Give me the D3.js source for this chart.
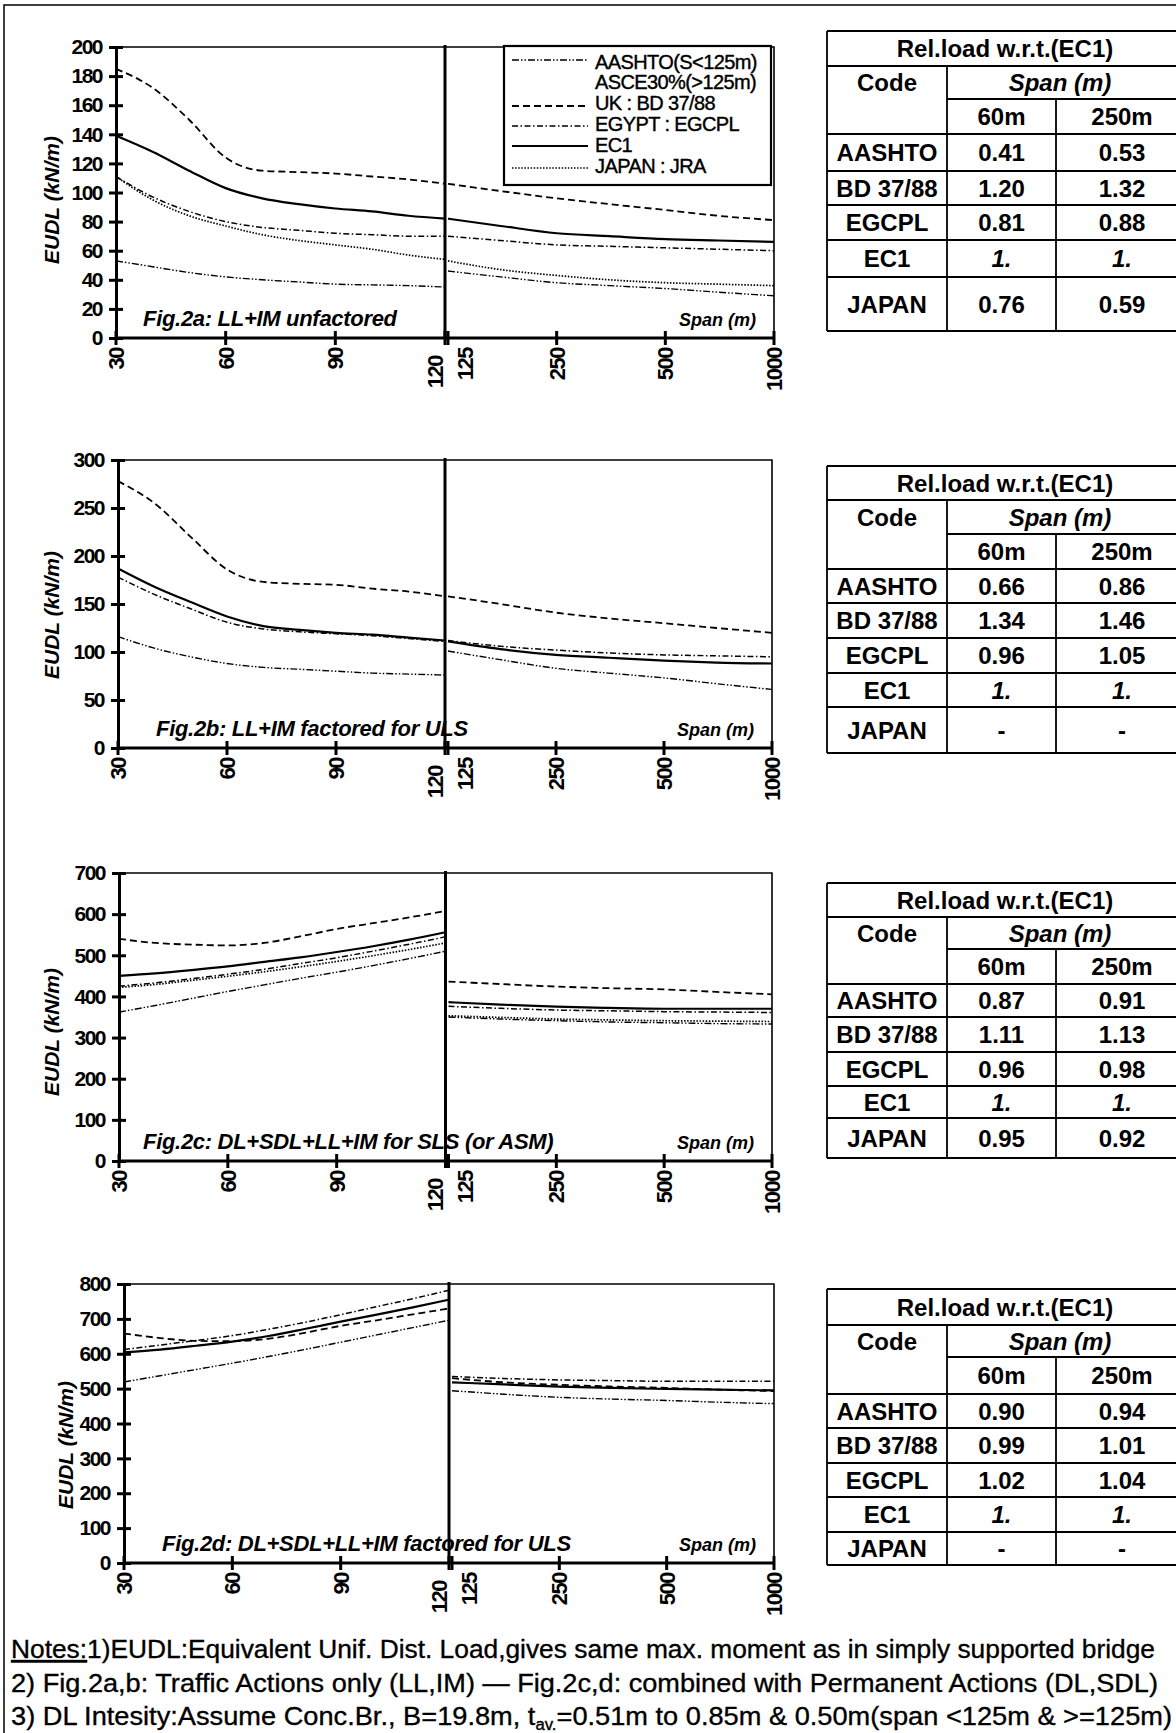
<!DOCTYPE html>
<html>
<head>
<meta charset="utf-8">
<script src="https://cdnjs.cloudflare.com/ajax/libs/d3/7.8.5/d3.min.js"></script>
<style>
body { margin: 0; background: #fff; }
svg { display: block; font-family: "Liberation Sans", Arial, sans-serif; }
</style>
</head>
<body>
<svg id="chart" width="1176" height="1733"></svg>
<script>
// spans (m): 30..120 on a linear part, 125..1000 on a log part
var spans = [30, 40, 50, 60, 70, 80, 90, 100, 110, 120, 125, 175, 250, 350, 500, 700, 1000];
var ticksLeft = [30, 60, 90, 120];
var ticksRight = [125, 250, 500, 1000];

// Fig.2a  LL+IM unfactored
var fig2a_aashto = [53, 49, 45, 42, 40, 38.5, 37, 36.5, 36, 35, 46, 42, 38, 36, 34, 31.5, 29];
var fig2a_uk     = [185, 172, 150, 124, 115, 114, 113, 111, 109, 106, 106, 101, 96, 92, 88, 84, 81];
var fig2a_egypt  = [111, 97, 87, 80, 76, 74, 72, 71, 70, 70, 70, 67, 64, 63, 62, 61, 60];
var fig2a_ec1    = [139, 128, 115, 103, 96, 92, 89, 87, 84, 82, 82, 77, 72, 70, 68, 67, 66];
var fig2a_japan  = [111, 95, 84, 77, 71, 67, 64, 61, 57, 54, 53, 47, 43, 40, 38, 37, 36];

// Fig.2b  LL+IM factored for ULS
var fig2b_aashto = [116, 104, 95, 88, 84, 82, 80, 78, 77, 76, 101, 92, 83, 78, 73, 67, 61];
var fig2b_uk     = [278, 255, 220, 186, 173, 171, 170, 166, 163, 158, 158, 150, 141, 135, 130, 125, 120];
var fig2b_egypt  = [178, 160, 145, 131, 124, 121, 119, 117, 114, 111, 112, 106, 102, 99, 97, 96, 95];
var fig2b_ec1    = [187, 168, 152, 137, 127, 123, 120, 118, 115, 112, 111, 103, 97, 94, 91, 89, 88];

// Fig.2c  DL+SDL+LL+IM for SLS
var fig2c_aashto = [362, 378, 395, 412, 428, 444, 459, 475, 492, 510, 350, 345, 341, 338, 336, 334, 333];
var fig2c_uk     = [540, 530, 526, 524, 530, 546, 564, 578, 592, 608, 436, 430, 424, 420, 417, 411, 405];
var fig2c_egypt  = [425, 433, 443, 454, 466, 480, 494, 510, 527, 545, 376, 371, 367, 365, 363, 362, 361];
var fig2c_ec1    = [450, 456, 464, 473, 484, 495, 508, 522, 538, 556, 386, 380, 375, 372, 370, 370, 370];
var fig2c_japan  = [422, 429, 439, 449, 460, 472, 485, 499, 514, 530, 353, 349, 345, 343, 341, 340, 339];

// Fig.2d  DL+SDL+LL+IM factored for ULS
var fig2d_aashto = [519, 537, 555, 573, 592, 612, 633, 654, 675, 696, 494, 484, 475, 470, 466, 461, 457];
var fig2d_uk     = [658, 645, 637, 636, 643, 660, 680, 696, 713, 730, 530, 518, 511, 506, 502, 497, 493];
var fig2d_egypt  = [612, 625, 638, 652, 670, 690, 712, 735, 758, 782, 535, 529, 525, 523, 521, 521, 521];
var fig2d_ec1    = [604, 612, 623, 635, 651, 671, 692, 712, 733, 755, 518, 512, 506, 502, 499, 497, 495];

// tables: relative load w.r.t. EC1
var tableCodes = ["AASHTO", "BD 37/88", "EGCPL", "EC1", "JAPAN"];
var rel2a_60 = ["0.41", "1.20", "0.81", "1.", "0.76"], rel2a_250 = ["0.53", "1.32", "0.88", "1.", "0.59"];
var rel2b_60 = ["0.66", "1.34", "0.96", "1.", "-"],    rel2b_250 = ["0.86", "1.46", "1.05", "1.", "-"];
var rel2c_60 = ["0.87", "1.11", "0.96", "1.", "0.95"], rel2c_250 = ["0.91", "1.13", "0.98", "1.", "0.92"];
var rel2d_60 = ["0.90", "0.99", "1.02", "1.", "-"],    rel2d_250 = ["0.94", "1.01", "1.04", "1.", "-"];

var legendLabels = [["AASHTO(S<125m)", "ASCE30%(>125m)"], ["UK : BD 37/88"], ["EGYPT : EGCPL"], ["EC1"], ["JAPAN : JRA"]];

// line styles per code
var styles = {
  aashto: { dash: "7,2,1.5,2,1.5,2", w: 1.4 },
  uk:     { dash: "7,4", w: 1.8 },
  egypt:  { dash: "6,2.5,1.5,2.5", w: 1.5 },
  ec1:    { dash: null, w: 2.2 },
  japan:  { dash: "1.5,1.6", w: 1.7 }
};

var panels = [
  { fig: "Fig.2a: LL+IM unfactored", x0: 116, x1: 774, yTop: 47, yZero: 338, yMax: 200, yStep: 20,
    figX: 143, labX: 52, labY: 200,
    series: { aashto: fig2a_aashto, uk: fig2a_uk, egypt: fig2a_egypt, ec1: fig2a_ec1, japan: fig2a_japan } },
  { fig: "Fig.2b: LL+IM factored for ULS", x0: 118, x1: 772, yTop: 460, yZero: 748, yMax: 300, yStep: 50,
    figX: 156, labX: 52, labY: 615,
    series: { aashto: fig2b_aashto, uk: fig2b_uk, egypt: fig2b_egypt, ec1: fig2b_ec1 } },
  { fig: "Fig.2c: DL+SDL+LL+IM for SLS (or ASM)", x0: 119, x1: 772, yTop: 873, yZero: 1161, yMax: 700, yStep: 100,
    figX: 143, labX: 52, labY: 1032,
    series: { aashto: fig2c_aashto, uk: fig2c_uk, egypt: fig2c_egypt, ec1: fig2c_ec1, japan: fig2c_japan } },
  { fig: "Fig.2d: DL+SDL+LL+IM factored for ULS", x0: 124, x1: 774, yTop: 1284, yZero: 1563, yMax: 800, yStep: 100,
    figX: 162, labX: 66, labY: 1445,
    series: { aashto: fig2d_aashto, uk: fig2d_uk, egypt: fig2d_egypt, ec1: fig2d_ec1 } }
];

var tables = [
  { rows: [31, 66, 99, 134, 171, 205, 240, 277, 331], v60: rel2a_60, v250: rel2a_250 },
  { rows: [466, 500, 534, 569, 603, 638, 673, 707, 753], v60: rel2b_60, v250: rel2b_250 },
  { rows: [883, 917, 949, 984, 1017, 1052, 1086, 1118, 1158], v60: rel2c_60, v250: rel2c_250 },
  { rows: [1289, 1325, 1357, 1394, 1428, 1463, 1497, 1532, 1565], v60: rel2d_60, v250: rel2d_250 }
];
var tableCols = [827, 947, 1056, 1188];

var svg = d3.select("#chart");
svg.append("rect").attr("width", 1176).attr("height", 1733).attr("fill", "#fff");
// outer frame
svg.append("path").attr("d", "M4,1733V5H1176").attr("fill", "none")
  .attr("stroke", "#000").attr("stroke-width", 1.5);

panels.forEach(drawPanel);
tables.forEach(drawTable);
drawLegend(panels[0]);
drawNotes();

function drawPanel(p) {
  var g = svg.append("g");
  var xm = (p.x0 + p.x1) / 2;
  var xL = d3.scaleLinear().domain([30, 120]).range([p.x0, xm]);
  var xR = d3.scaleLog().domain([125, 1000]).range([xm + 3, p.x1]);
  var x = function (s) { return s <= 120 ? xL(s) : xR(s); };
  var y = d3.scaleLinear().domain([0, p.yMax]).range([p.yZero, p.yTop]);

  // top and right border of the plot area
  g.append("path").attr("d", "M" + p.x0 + "," + p.yTop + "H" + p.x1 + "V" + p.yZero)
    .attr("fill", "none").attr("stroke", "#000").attr("stroke-width", 1.6);

  // captions inside the plot
  g.append("text").attr("x", p.figX).attr("y", p.yZero - 12)
    .style("font-size", "22px").style("font-weight", "bold").style("font-style", "italic")
    .style("letter-spacing", "-0.3px")
    .text(p.fig);
  g.append("text").attr("x", p.x1 - 18).attr("y", p.yZero - 12).attr("text-anchor", "end")
    .style("font-size", "18px").style("font-weight", "bold").style("font-style", "italic")
    .text("Span (m)");

  // curves, left (linear) and right (log) parts drawn separately
  var line = d3.line()
    .x(function (d) { return x(d.s); })
    .y(function (d) { return y(d.v); })
    .curve(d3.curveMonotoneX);
  Object.keys(p.series).forEach(function (k) {
    var pts = spans.map(function (s, i) { return { s: s, v: p.series[k][i] }; });
    var parts = [pts.filter(function (d) { return d.s <= 120; }), pts.filter(function (d) { return d.s >= 125; })];
    parts.forEach(function (part) {
      g.append("path").datum(part)
        .attr("d", line)
        .attr("fill", "none")
        .attr("stroke", "#000")
        .attr("stroke-width", styles[k].w)
        .attr("stroke-dasharray", styles[k].dash);
    });
  });

  // divider between the two x scales
  g.append("line").attr("x1", xm).attr("x2", xm).attr("y1", p.yTop - 2).attr("y2", p.yZero)
    .attr("stroke", "#000").attr("stroke-width", 3);

  // y axis
  var ya = g.append("g").attr("transform", "translate(" + p.x0 + ",0)")
    .call(d3.axisLeft(y).tickValues(d3.range(0, p.yMax + 1, p.yStep)).tickSize(7).tickSizeOuter(0).tickPadding(7));
  ya.select(".domain").attr("stroke-width", 3);
  ya.selectAll(".tick line").attr("x1", 7).attr("stroke-width", 3);
  ya.selectAll(".tick text")
    .style("font-family", "'Liberation Sans', Arial, sans-serif")
    .style("font-size", "21px").style("font-weight", "bold").attr("fill", "#000")
    .style("letter-spacing", "-1.5px");

  g.append("text")
    .attr("transform", "translate(" + p.labX + "," + p.labY + ") rotate(-90)")
    .attr("text-anchor", "middle").attr("dy", "0.35em")
    .style("font-size", "21px").style("font-weight", "bold").style("font-style", "italic")
    .text("EUDL (kN/m)");

  // x axis
  g.append("line").attr("x1", p.x0 - 1).attr("x2", p.x1 + 1).attr("y1", p.yZero).attr("y2", p.yZero)
    .attr("stroke", "#000").attr("stroke-width", 3);
  var labShift = { 120: [-10, 8], 125: [17, 0] };
  ticksLeft.concat(ticksRight).forEach(function (t) {
    var tx = x(t);
    g.append("line").attr("x1", tx).attr("x2", tx).attr("y1", p.yZero - 7).attr("y2", p.yZero + 7)
      .attr("stroke", "#000").attr("stroke-width", 3);
    var sh = labShift[t] || [0, 0];
    g.append("text")
      .attr("transform", "translate(" + (tx + sh[0]) + "," + (p.yZero + 10 + sh[1]) + ") rotate(-90)")
      .attr("text-anchor", "end").attr("dy", "0.36em")
      .style("font-size", "22px").style("font-weight", "bold").style("letter-spacing", "-1.5px")
      .text(t);
  });
}

function drawLegend(p) {
  var g = svg.append("g");
  g.append("rect").attr("x", 504).attr("y", 46).attr("width", 267).attr("height", 139)
    .attr("fill", "#fff").attr("stroke", "#000").attr("stroke-width", 2.2);
  var keys = ["aashto", "uk", "egypt", "ec1", "japan"];
  var lineY = [60, 106, 126, 146, 168];
  var textY = [[69, 89], [110], [131], [152], [173]];
  keys.forEach(function (k, i) {
    g.append("line").attr("x1", 512).attr("x2", 588).attr("y1", lineY[i]).attr("y2", lineY[i])
      .attr("stroke", "#000").attr("stroke-width", styles[k].w).attr("stroke-dasharray", styles[k].dash);
    legendLabels[i].forEach(function (lab, j) {
      g.append("text").attr("x", 595).attr("y", textY[i][j])
        .style("font-size", "20px").style("letter-spacing", "-0.6px")
        .attr("stroke", "#000").attr("stroke-width", 0.4)
        .text(lab);
    });
  });
}

function drawTable(t) {
  var g = svg.append("g");
  var r = t.rows, c = tableCols;
  var hl = function (yy, xa, xb) {
    g.append("line").attr("x1", xa).attr("x2", xb).attr("y1", yy).attr("y2", yy)
      .attr("stroke", "#000").attr("stroke-width", 1.8);
  };
  var vl = function (xx, ya, yb) {
    g.append("line").attr("x1", xx).attr("x2", xx).attr("y1", ya).attr("y2", yb)
      .attr("stroke", "#000").attr("stroke-width", 1.8);
  };
  hl(r[0], c[0], c[3]); hl(r[1], c[0], c[3]); hl(r[2], c[1], c[3]);
  for (var i = 3; i < r.length; i++) hl(r[i], c[0], c[3]);
  vl(c[0], r[0], r[8]); vl(c[1], r[1], r[8]); vl(c[2], r[2], r[8]);

  var txt = function (xx, yy, s, italic) {
    g.append("text").attr("x", xx).attr("y", yy).attr("dy", "0.36em").attr("text-anchor", "middle")
      .style("font-size", "24px").style("font-weight", "bold")
      .style("font-style", italic ? "italic" : "normal").text(s);
  };
  var mid = function (a, b) { return (a + b) / 2; };
  txt(1005, mid(r[0], r[1]), "Rel.load w.r.t.(EC1)");
  txt(mid(c[0], c[1]), mid(r[1], r[2]), "Code");
  txt(1060, mid(r[1], r[2]), "Span (m)", true);
  txt(mid(c[1], c[2]), mid(r[2], r[3]), "60m");
  txt(1122, mid(r[2], r[3]), "250m");
  tableCodes.forEach(function (code, i) {
    var yy = mid(r[3 + i], r[4 + i]);
    txt(mid(c[0], c[1]), yy, code);
    txt(mid(c[1], c[2]), yy, t.v60[i], code === "EC1");
    txt(1122, yy, t.v250[i], code === "EC1");
  });
}

function drawNotes() {
  var g = svg.append("g").style("font-size", "26px").attr("stroke", "#000").attr("stroke-width", 0.35);
  var t1 = g.append("text").attr("x", 11).attr("y", 1658)
    .attr("textLength", 1144).attr("lengthAdjust", "spacingAndGlyphs");
  t1.append("tspan").style("text-decoration", "underline").text("Notes:");
  t1.append("tspan").text("1)EUDL:Equivalent Unif. Dist. Load,gives same max. moment as in simply supported bridge");
  g.append("text").attr("x", 11).attr("y", 1692)
    .attr("textLength", 1147).attr("lengthAdjust", "spacingAndGlyphs")
    .text("2) Fig.2a,b: Traffic Actions only (LL,IM) \u2014 Fig.2c,d: combined with Permanent Actions (DL,SDL)");
  var t3 = g.append("text").attr("x", 11).attr("y", 1725)
    .attr("textLength", 1161).attr("lengthAdjust", "spacingAndGlyphs");
  t3.append("tspan").text("3) DL Intesity:Assume Conc.Br., B=19.8m, t");
  t3.append("tspan").attr("dy", 5).style("font-size", "16px").text("av.");
  t3.append("tspan").attr("dy", -5).text("=0.51m to 0.85m & 0.50m(span <125m & >=125m)");
}
</script>
</body>
</html>
